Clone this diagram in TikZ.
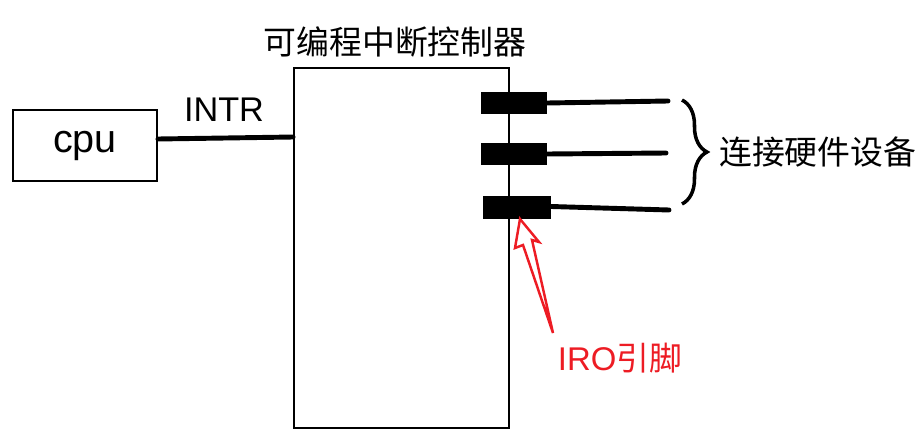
\documentclass[tikz,border=0pt]{standalone}
\usepackage{fontspec}
\setmainfont{Liberation Sans}
\newfontfamily\cjk{Noto Sans CJK SC}
\usetikzlibrary{decorations.pathreplacing}
\definecolor{C0}{RGB}{237,28,36}

\begin{document}
\begin{tikzpicture}[x=0.02cm,y=-0.02cm,
    box/.style={draw,line width=1.1pt,inner sep=0pt},
    pin/.style={fill=black,inner sep=0pt,minimum height=0.44cm},
    wire/.style={line width=2.8pt,line cap=round},
    txt/.style={font=\fontsize{18.7}{20}\selectfont}]

  \useasboundingbox (0,0) rectangle (917,443);

  % CPU and the controller.
  \node[box,minimum width=2.88cm,minimum height=1.42cm,font=\fontsize{22.5}{24}\selectfont] (cpu) at (85,145.5) {cpu};
  \node[box,minimum width=4.3cm,minimum height=7.2cm] (pic) at (401.5,248) {};
  \node[txt,font=\cjk\fontsize{18.7}{20}\selectfont] (title) at (395,42) {可编程中断控制器};

  % INTR line.
  \draw[wire] ([yshift=0.13cm]cpu.east) -- ([yshift=0.17cm]cpu.east -| pic.west);
  \node[txt,font=\fontsize{19.5}{21}\selectfont] (intr) at (224,110) {INTR};

  % IR pins.
  \node[pin,minimum width=1.32cm] (pin1) at (514,103) {};
  \node[pin,minimum width=1.32cm] (pin2) at (514,154) {};
  \node[pin,minimum width=1.36cm,minimum height=0.46cm] (pin3) at (517,207.5) {};

  \coordinate (w1) at (668,101);
  \coordinate (w2) at (666,153);
  \coordinate (w3) at (669,210);
  \draw[wire] (pin1.east) -- (w1);
  \draw[wire] (pin2.east) -- (w2);
  \draw[wire] ([yshift=0.02cm]pin3.east) -- (w3);

  % Devices.
  \draw[line width=2pt,decorate,decoration={brace,amplitude=0.5cm}] (682,100) -- (682,204);
  \node[txt,anchor=west,font=\cjk\fontsize{18.7}{20}\selectfont] (dev) at (713,152) {连接硬件设备};

  % IR pin label.
  \node[txt,text=C0] (iro) at (620,358) {IRO{\cjk 引脚}};
  \draw[C0,line width=1.4pt,line join=miter] (520,219) -- (539,242) -- (532,240) -- (553,333)
    -- (523,245) -- (515,248) -- cycle;

\end{tikzpicture}
\end{document}
